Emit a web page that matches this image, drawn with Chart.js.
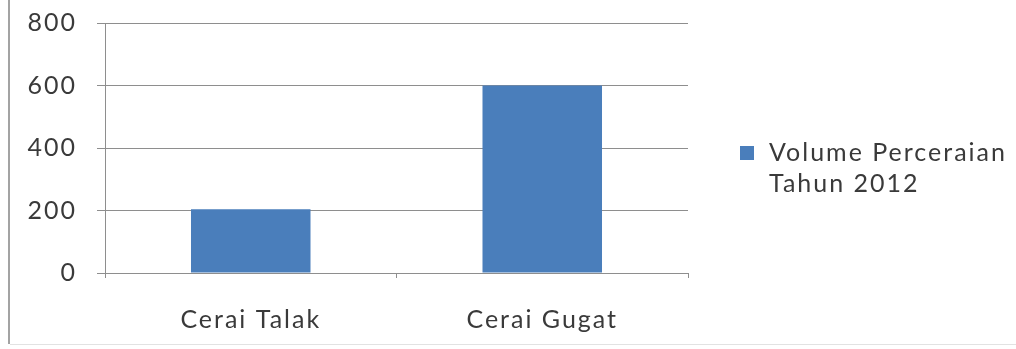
<!DOCTYPE html>
<html>
<head>
<meta charset="utf-8">
<script src="https://cdn.jsdelivr.net/npm/chart.js@4/dist/chart.umd.min.js"></script>
<style>
  html, body { margin: 0; padding: 0; background: #fff; }
  #wrap { position: relative; width: 1016px; height: 349px; }
</style>
</head>
<body>
<div id="wrap"><canvas id="c" width="1016" height="349"></canvas></div>
<script>
// Divorce volume by type, 2012
const categories = ['Cerai Talak', 'Cerai Gugat'];
const volume2012 = [204, 600];
const seriesLabel = ['Volume Perceraian', 'Tahun 2012'];
const yTicks = [0, 200, 400, 600, 800];

const FONT = 'Lato, "Open Sans", sans-serif';
const TEXT = '#3a3a3a';
const GRID = '#8e8e8e';
const BAR = '#4A7EBB';
const SPACING = '2px';

// Slightly tracked-out lettering for all chart text
const spacingPlugin = {
  id: 'spacing',
  beforeUpdate(chart) { chart.ctx.letterSpacing = SPACING; },
  beforeLayout(chart) { chart.ctx.letterSpacing = SPACING; },
  beforeDraw(chart) { chart.ctx.letterSpacing = SPACING; }
};

// Page frame (left rule and faint bottom edge) and a wrapped legend at the right
const framePlugin = {
  id: 'frame',
  beforeDraw(chart) {
    const ctx = chart.ctx;
    ctx.save();
    ctx.fillStyle = '#ffffff';
    ctx.fillRect(0, 0, chart.width, chart.height);
    ctx.strokeStyle = '#a3a3a3';
    ctx.lineWidth = 2;
    ctx.beginPath();
    ctx.moveTo(9, 0);
    ctx.lineTo(9, 344);
    ctx.stroke();
    ctx.strokeStyle = '#e2e2e2';
    ctx.lineWidth = 1;
    ctx.beginPath();
    ctx.moveTo(10, 344.5);
    ctx.lineTo(chart.width, 344.5);
    ctx.stroke();
    ctx.restore();
  },
  afterDraw(chart) {
    const ctx = chart.ctx;
    const ds = chart.data.datasets[0];
    ctx.save();
    ctx.fillStyle = ds.backgroundColor;
    ctx.fillRect(740, 146, 14, 14);
    ctx.fillStyle = TEXT;
    ctx.font = '25px ' + FONT;
    ctx.letterSpacing = SPACING;
    ctx.textBaseline = 'middle';
    ctx.textAlign = 'left';
    ds.label.forEach((line, i) => ctx.fillText(line, 769, 153 + i * 31));
    ctx.restore();
  }
};

new Chart(document.getElementById('c'), {
  type: 'bar',
  data: {
    labels: categories,
    datasets: [{
      label: seriesLabel,
      data: volume2012,
      backgroundColor: BAR,
      borderWidth: 0,
      categoryPercentage: 1,
      barPercentage: 0.41
    }]
  },
  options: {
    responsive: false,
    animation: false,
    devicePixelRatio: 1,
    layout: { padding: { top: 23, right: 328, bottom: 0, left: 0 } },
    plugins: {
      legend: { display: false },
      tooltip: { enabled: false }
    },
    scales: {
      x: {
        offset: true,
        grid: {
          offset: true,
          drawOnChartArea: false,
          drawTicks: true,
          tickLength: 5,
          color: GRID,
          lineWidth: 1
        },
        border: { display: true, color: GRID, width: 1 },
        ticks: {
          color: TEXT,
          font: { family: FONT, size: 25 },
          padding: 27,
          maxRotation: 0
        },
        afterFit(scale) { scale.height = 76; }
      },
      y: {
        min: 0,
        max: 800,
        afterBuildTicks(scale) { scale.ticks = yTicks.map(v => ({ value: v })); },
        grid: {
          color: GRID,
          lineWidth: 1,
          drawTicks: true,
          tickLength: 8
        },
        border: { display: true, color: GRID, width: 1 },
        ticks: {
          color: TEXT,
          font: { family: FONT, size: 25 },
          padding: 20
        },
        afterFit(scale) {
          scale.width = 105;
          scale.paddingTop = 0;
          scale.paddingBottom = 0;
        }
      }
    }
  },
  plugins: [spacingPlugin, framePlugin]
});
</script>
</body>
</html>
